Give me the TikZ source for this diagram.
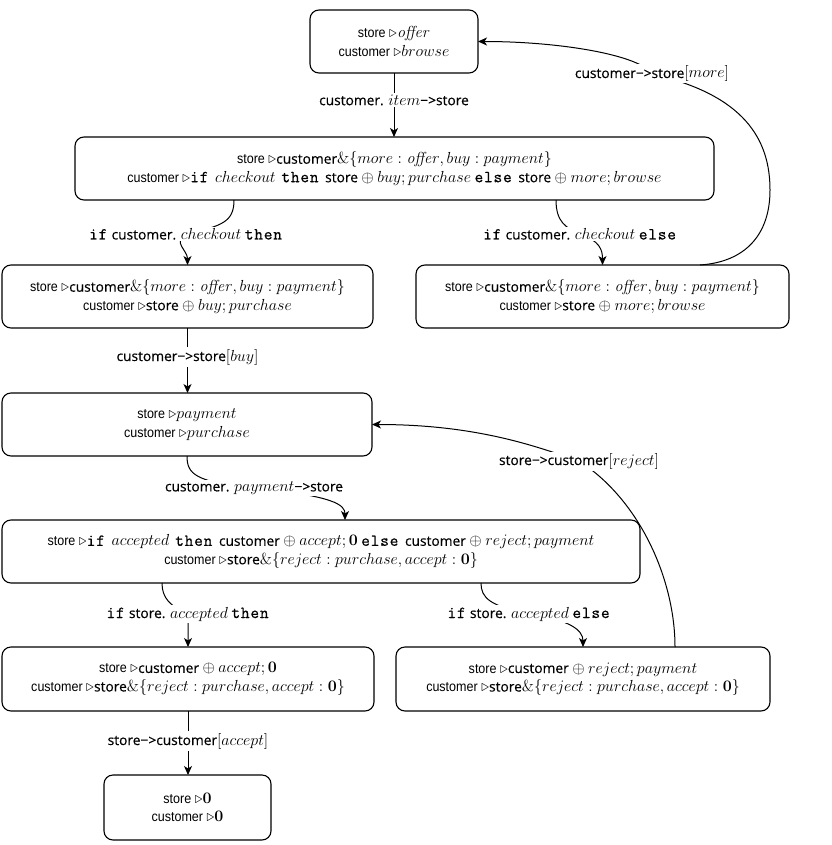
\RequirePackage{fix-cm}
\documentclass[tikz,border=0pt]{standalone}
\usepackage[no-math]{fontspec}
\setmainfont{Liberation Sans}[Scale=0.87, FakeStretch=0.9]
\setmonofont{Latin Modern Mono}[LetterSpace=5, Scale=1.05, FakeBold=0.7]
\newfontfamily\pfont{Open Sans}[Scale=0.86, FakeBold=0.4]
\usetikzlibrary{arrows.meta}
\pgfdeclarelayer{bg}
\pgfsetlayers{bg,main}
\newcommand{\ptcp}[1]{{\pfont #1}}
\newcommand{\kw}[1]{\texttt{#1}}
\newcommand{\rt}{$\triangleright$}
\begin{document}
\begin{tikzpicture}[x=1pt,y=-1pt,
  box/.style={draw, line width=1.1pt, rounded corners=9pt, align=center, inner sep=2pt, outer sep=0pt,
    font=\fontsize{16}{18.5}\selectfont},
  elab/.style={fill=white, inner sep=1.5pt, font=\fontsize{16}{17}\selectfont},
  conn/.style={line width=1pt},
  arr/.style={conn, -{Stealth[length=9pt,width=8pt,inset=2.5pt]}}]
\useasboundingbox (0,0) rectangle (831,845);

% boxes
\node[box, minimum width=168pt, minimum height=63pt] (b1) at (394,41.5)
  {store \rt$\mathit{offer}$\\ customer \rt$browse$};
\node[box, minimum width=639pt, minimum height=63pt] (b2) at (394.5,168.5)
  {store \rt\ptcp{customer}$\&\{more : \mathit{offer}, buy : payment\}$\\
   customer \rt\kw{if} \,$checkout$\, \kw{then}\, \ptcp{store} $\oplus$ $buy; purchase$ \kw{else}\, \ptcp{store} $\oplus$ $more; browse$};
\node[box, minimum width=371pt, minimum height=63pt] (b3) at (187.5,296.5)
  {store \rt\ptcp{customer}$\&\{more : \mathit{offer}, buy : payment\}$\\
   customer \rt\ptcp{store} $\oplus$ $buy; purchase$};
\node[box, minimum width=373pt, minimum height=63pt] (b4) at (602.5,296.5)
  {store \rt\ptcp{customer}$\&\{more : \mathit{offer}, buy : payment\}$\\
   customer \rt\ptcp{store} $\oplus$ $more; browse$};
\node[box, minimum width=370pt, minimum height=63pt] (b5) at (187,424.5)
  {store \rt$payment$\\ customer \rt$purchase$};
\node[box, minimum width=638pt, minimum height=63pt] (b6) at (321,551.5)
  {store \rt\kw{if} \,$accepted$\, \kw{then}\, \ptcp{customer} $\oplus$ $accept; \mathbf{0}$ \kw{else}\, \ptcp{customer} $\oplus$ $reject; payment$\\
   customer \rt\ptcp{store}$\&\{reject : purchase, accept : \mathbf{0}\}$};
\node[box, minimum width=372pt, minimum height=64pt] (b7) at (188,679)
  {store \rt\ptcp{customer} $\oplus$ $accept; \mathbf{0}$\\
   customer \rt\ptcp{store}$\&\{reject : purchase, accept : \mathbf{0}\}$};
\node[box, minimum width=374pt, minimum height=64pt] (b8) at (583,679)
  {store \rt\ptcp{customer} $\oplus$ $reject; payment$\\
   customer \rt\ptcp{store}$\&\{reject : purchase, accept : \mathbf{0}\}$};
\node[box, minimum width=167pt, minimum height=65pt] (b9) at (187.5,807.5)
  {store \rt$\mathbf{0}$\\ customer \rt$\mathbf{0}$};

% edge labels
\node[elab] (lA) at (394,100) {\ptcp{customer.} $item$\ptcp{−>store}};
\node[elab] (lB) at (186,234) {\kw{if} \ptcp{customer.} $checkout$ \kw{then}};
\node[elab] (lC) at (580,234) {\kw{if} \ptcp{customer.} $checkout$ \kw{else}};
\node[elab] (lD) at (187.5,357) {\ptcp{customer−>store}$[buy]$};
\node[elab] (lE) at (652,74) {\ptcp{customer−>store}$[more]$};
\node[elab] (lF) at (254,488) {\ptcp{customer.} $payment$\ptcp{−>store}};
\node[elab] (lG) at (579,461) {\ptcp{store−>customer}$[reject]$};
\node[elab] (lH) at (188,614) {\kw{if} \ptcp{store.} $accepted$ \kw{then}};
\node[elab] (lI) at (529,614) {\kw{if} \ptcp{store.} $accepted$ \kw{else}};
\node[elab] (lJ) at (188,741) {\ptcp{store−>customer}$[accept]$};

% connector end points
\coordinate (sB) at (234,200);
\coordinate (sC) at (556,200);
\coordinate (sE) at (700,265);
\coordinate (eF) at (345,520);
\coordinate (sG) at (675,647);
\coordinate (sH) at (162,583);
\coordinate (sI) at (481,583);
\coordinate (eI) at (583,647);

\begin{pgfonlayer}{bg}
\draw[arr] (b1.south) -- (lA) -- (b2.north -| b1.south);
\draw[arr] (sB) .. controls (234,222) and (222,226) .. (lB.center) .. controls (172,242) and (187.5,250) .. (b3.north);
\draw[arr] (sC) .. controls (556,222) and (566,228) .. (lC.center) .. controls (600,241) and (602.5,250) .. (b4.north);
\draw[arr] (b3.south) -- (lD) -- (b5.north -| b3.south);
\draw[arr] (sE) .. controls (745,262) and (770,235) .. (770,190) .. controls (770,140) and (745,95) .. (lE.center) .. controls (640,55) and (560,41.5) .. (b1.east);
\draw[arr] (b5.south) .. controls (187,474) and (195,482) .. (lF.center) .. controls (335,496) and (345,505) .. (eF);
\draw[arr] (sG) .. controls (675,580) and (640,500) .. (lG.center) .. controls (540,448) and (480,424.5) .. (b5.east);
\draw[arr] (sH) .. controls (162,598) and (170,606) .. (lH.center) -- (b7.north);
\draw[arr] (sI) .. controls (481,598) and (490,606) .. (lI.center) .. controls (570,620) and (583,630) .. (eI);
\draw[arr] (b7.south) -- (lJ) -- (b9.north -| b7.south);
\end{pgfonlayer}
\end{tikzpicture}
\end{document}
